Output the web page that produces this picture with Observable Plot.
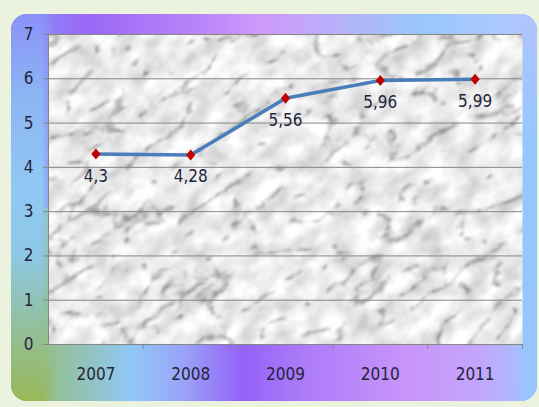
<!DOCTYPE html>
<html>
<head>
<meta charset="utf-8">
<script src="https://cdn.jsdelivr.net/npm/d3@7"></script>
<script src="https://cdn.jsdelivr.net/npm/@observablehq/plot@0.6"></script>
<style>
  html, body { margin: 0; padding: 0; }
  body { width: 539px; height: 407px; background: #ebf2dd; position: relative; overflow: hidden; }
  #panel {
    position: absolute; left: 11px; top: 14px; width: 526px; height: 387px;
    border-radius: 16px; overflow: hidden;
    background: linear-gradient(to right, #98b95a 0%, #93c0a0 10%, #90c8f6 23%, #9aa2f8 33%, #9462f8 44%, #ad7cf8 56%, #c894fb 75%, #c4a4fc 88%, #a4c2ff 100%);
  }
  #panel .top {
    position: absolute; left: 0; right: 0; top: 0; height: 50%;
    background: linear-gradient(to right, #8a90f8 0%, #9a68f6 15%, #b884f8 35%, #d098fa 47%, #b8b0fa 62%, #98c8fc 78%, #b4c8ff 100%);
  }
  #panel .left {
    position: absolute; left: 0; top: 0; bottom: 0; width: 44px;
    background: linear-gradient(to bottom, #8a90f8 0%, #8cb4f4 20%, #90c8f4 45%, #8ec8e6 62%, #92c0a0 80%, #98b858 100%);
    -webkit-mask-image: linear-gradient(to right, #000 70%, transparent);
    mask-image: linear-gradient(to right, #000 70%, transparent);
  }
  #panel .right {
    position: absolute; right: 0; top: 0; bottom: 0; width: 22px;
    background: linear-gradient(to bottom, #b0c4ff 0%, #94c8ff 35%, #98c4ff 100%);
    -webkit-mask-image: linear-gradient(to left, #000 60%, transparent);
    mask-image: linear-gradient(to left, #000 60%, transparent);
  }
  #chart { position: absolute; left: 0; top: 0; }
</style>
</head>
<body>
<div id="panel"><div class="top"></div><div class="left"></div><div class="right"></div></div>
<div id="chart"></div>
<script>
// Annual values, 2007–2011
const years = [2007, 2008, 2009, 2010, 2011];
const values = [4.3, 4.28, 5.56, 5.96, 5.99];
const yTicks = [0, 1, 2, 3, 4, 5, 6, 7];

// Category boundaries for the small ticks under the baseline
const boundaries = years.map(y => y + 0.5);

const data = years.map((year, i) => ({
  year,
  value: values[i],
  label: String(values[i]).replace(".", ",")
}));

// Red diamond marker, a little taller than wide
const diamond = {
  draw(context) {
    context.moveTo(0, -5.5);
    context.lineTo(4.6, 0);
    context.lineTo(0, 5.5);
    context.lineTo(-4.6, 0);
    context.closePath();
  }
};

const grid = "#868686";

const chart = Plot.plot({
  width: 539,
  height: 407,
  marginLeft: 48,
  marginRight: 17,
  marginTop: 34,
  marginBottom: 63,
  style: {
    background: "transparent",
    fontFamily: '"Liberation Sans Narrow", "DejaVu Sans Condensed", "Arial Narrow", sans-serif',
    fontSize: "17px",
    color: "#24243a"
  },
  x: { domain: [2006.5, 2011.5] },
  y: { domain: [0, 7] },
  marks: [
    Plot.frame({ fill: "url(#marble)" }),
    Plot.ruleY(yTicks, { stroke: grid, strokeWidth: 1, insetLeft: -5 }),
    Plot.ruleX([2006.5], { stroke: grid, strokeWidth: 1 }),
    Plot.ruleX(boundaries, { y1: 0, y2: 0, insetBottom: -5, stroke: grid, strokeWidth: 1 }),
    Plot.line(data, { x: "year", y: "value", stroke: "#4a7ebb", strokeWidth: 3.5 }),
    Plot.dot(data, { x: "year", y: "value", symbol: diamond, fill: "#c00000", stroke: "none" }),
    Plot.text(data, { x: "year", y: "value", text: "label", dy: 22, fill: "#24243a" }),
    Plot.axisY({ ticks: yTicks, tickSize: 0, tickPadding: 15, tickFormat: d => String(d), label: null }),
    Plot.axisX({ ticks: years, tickSize: 0, tickPadding: 23, tickFormat: d => String(d), label: null })
  ]
});

// Marble texture: grey clouding with soft veins where the turbulence
// folds through zero, turned diagonally in one large pattern tile
const defs = d3.select(chart).insert("defs", ":first-child");
const filter = defs.append("filter")
  .attr("id", "marbleNoise")
  .attr("x", 0).attr("y", 0).attr("width", 1).attr("height", 1)
  .attr("color-interpolation-filters", "sRGB");
filter.append("feTurbulence")
  .attr("type", "fractalNoise")
  .attr("baseFrequency", "0.04 0.06")
  .attr("numOctaves", 4)
  .attr("seed", 4)
  .attr("result", "cloudRaw");
filter.append("feColorMatrix")
  .attr("in", "cloudRaw").attr("type", "matrix")
  .attr("values", "1 0 0 0 0  1 0 0 0 0  1 0 0 0 0  0 0 0 0 1")
  .attr("result", "cloud");
filter.append("feTurbulence")
  .attr("type", "turbulence")
  .attr("baseFrequency", "0.018 0.032")
  .attr("numOctaves", 4)
  .attr("seed", 11)
  .attr("result", "veinRaw");
filter.append("feColorMatrix")
  .attr("in", "veinRaw").attr("type", "matrix")
  .attr("values", "2.8 0 0 0 0.48  2.8 0 0 0 0.48  2.8 0 0 0 0.48  0 0 0 0 1")
  .attr("result", "vein");
filter.append("feComposite")
  .attr("in", "cloud").attr("in2", "vein")
  .attr("operator", "arithmetic")
  .attr("k1", 0).attr("k2", 0.35).attr("k3", 0.75).attr("k4", 0)
  .attr("result", "stone");
filter.append("feGaussianBlur").attr("in", "stone").attr("stdDeviation", 1);

const pattern = defs.append("pattern")
  .attr("id", "marble")
  .attr("patternUnits", "userSpaceOnUse")
  .attr("x", -700).attr("y", -700)
  .attr("width", 2000).attr("height", 2000)
  .attr("patternTransform", "rotate(-35)");
pattern.append("rect")
  .attr("width", 2000).attr("height", 2000)
  .attr("fill", "#fff")
  .attr("filter", "url(#marbleNoise)");

document.getElementById("chart").append(chart);
</script>
</body>
</html>
